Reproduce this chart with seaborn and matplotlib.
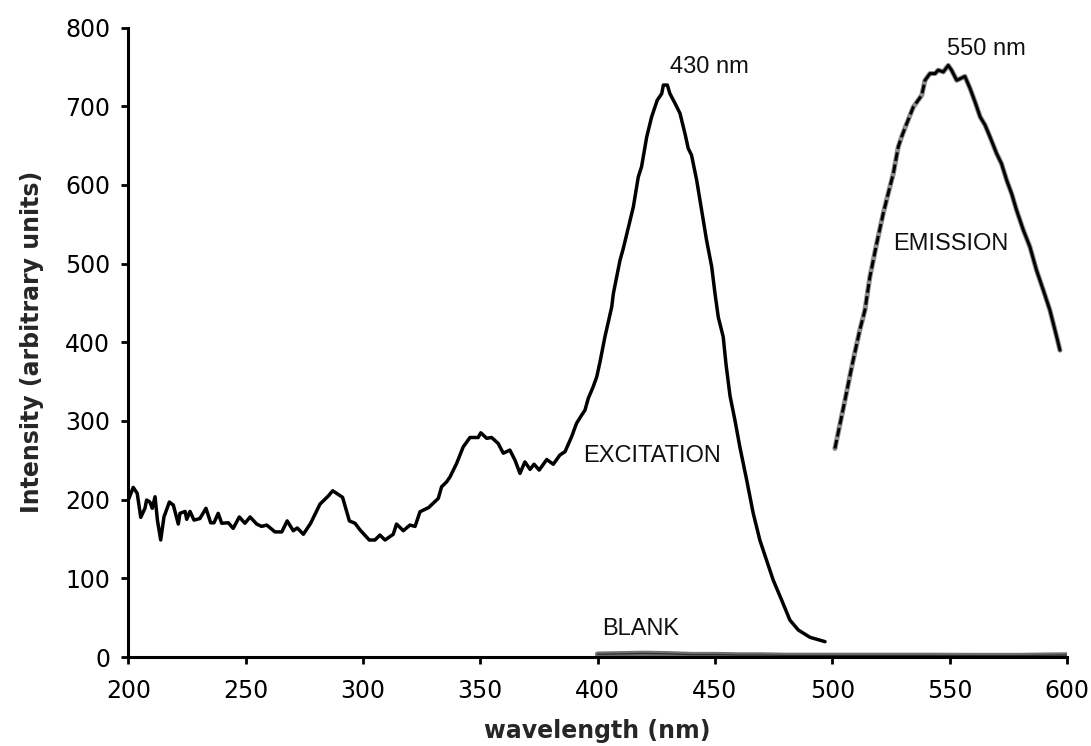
import matplotlib
matplotlib.use("Agg")
import matplotlib.pyplot as plt
import seaborn as sns

# Excitation spectrum (wavelength in nm, intensity in arbitrary units)
exc_wl = [200, 202.1, 203.8, 205.3, 207.1, 207.8, 209.2, 210.2, 211.4, 212.4,
          213.8, 215.2, 217.5, 219.2, 221.3, 222, 224.2, 224.9, 226.3, 228,
          230.5, 233.1, 235.1, 236.5, 238.3, 239.8, 242.6, 244.7, 247.3, 249.7,
          251.9, 254.7, 256.8, 259, 262.5, 265.4, 267.7, 270.3, 272, 274.6,
          277.7, 281.7, 285.2, 287.1, 288.8, 291.3, 294.2, 296.6, 298.7, 302.7,
          305.1, 307.2, 309.4, 312.9, 314.3, 317.2, 320, 322.2, 324.3, 328,
          332.1, 333.5, 335.7, 337.1, 339.9, 342.7, 345.6, 349.1, 350.2, 352.7,
          354.8, 357.6, 359.8, 362.6, 364.8, 366.9, 369, 371.2, 372.9, 375.1,
          378.3, 381.1, 383.9, 386.1, 388.9, 391, 393.2, 394.6, 396, 398.1,
          399.6, 401, 403.1, 406, 406.7, 409.5, 410.9, 413.8, 415.2, 417.3,
          418.7, 420.9, 423, 425.4, 427.3, 428, 429.7, 430.8, 433, 435.1,
          437.2, 438.6, 440, 442.2, 444.3, 446.4, 448.6, 450, 451.4, 453.5,
          454.7, 456.4, 458.5, 460.6, 463.5, 466.3, 469.1, 472, 474.8, 478.4,
          481.9, 485.5, 490.5, 496.9]
exc_int = [199.5, 215.6, 208, 177.5, 189, 199.5, 197, 189, 203.7, 174,
           148.7, 178, 197, 193, 169, 182.6, 185, 175, 185, 174,
           176, 189, 170.6, 170.6, 182.6, 170, 170.6, 163.5, 178, 170,
           178, 169, 166, 167.7, 159, 159, 173, 160.5, 164, 156,
           170, 194.4, 204.6, 211.3, 208, 203, 173, 170, 161.7, 148.7,
           148.7, 155, 148.7, 156, 169, 160.5, 167.7, 166, 184.6, 190,
           201.6, 216.4, 222.8, 229, 246, 267, 279, 279, 285, 278,
           279, 271.5, 259, 263, 250, 233.4, 248, 238.5, 245, 237.6,
           251, 245, 256.7, 261, 280, 297, 307.5, 313.8, 328.7, 343.5,
           356, 375, 407, 445, 462, 504, 519, 555, 572, 610,
           623, 661, 686.5, 707.8, 716, 727, 727, 716, 703.6, 690.8,
           665.4, 646.4, 638, 606, 568, 530, 496, 462, 432, 407,
           372, 332, 301, 267, 225, 182.6, 148.7, 123, 97.8, 72.4,
           47, 34.3, 25, 19.5]

# Emission spectrum
em_wl = [501.1, 505.4, 508.5, 511.7, 513.9, 516, 518.9, 521.7, 523.8, 526,
         528.1, 529.5, 531.7, 534.5, 536.6, 538.1, 539.5, 541.6, 543.8, 545.1,
         547.3, 549.4, 550.8, 553, 554.4, 556.5, 558.7, 560.8, 563, 565.1,
         567.2, 570, 572.1, 574.3, 576.4, 578.5, 581.4, 584.2, 587, 589.9,
         592.7, 595.6, 597]
em_int = [265, 326.6, 372, 415.5, 441, 483, 525.6, 563.8, 589, 614.6,
          648.4, 661, 678, 699, 707.8, 714, 733, 741.6, 741.6, 745.9,
          743.7, 752, 745.9, 733, 735, 738, 722.6, 705.6, 686.5, 676,
          661, 640, 627, 606, 589, 568, 542.6, 521.3, 491.7, 466.3,
          441, 407, 390]

# Blank measurement
blank_wl = [400, 410, 420, 430, 440, 450, 460, 470, 480, 490,
            500, 520, 540, 560, 580, 590, 600]
blank_int = [3.5, 4, 4.5, 4, 3, 3, 2.5, 2.5, 2, 2,
             2, 2, 2, 1.8, 1.8, 2.2, 2.5]

sns.set_style("ticks")
plt.rcParams['font.family'] = ['DejaVu Sans']

fig = plt.figure(figsize=(10.91, 7.46), dpi=100)
ax = fig.add_axes([0.1176, 0.1193, 0.8604, 0.8437])

# blank: textured grey band along the baseline
sns.lineplot(x=blank_wl, y=blank_int, ax=ax, color='#707070', lw=4.0,
             estimator=None, sort=False)
sns.lineplot(x=blank_wl, y=blank_int, ax=ax, color='#2e2e2e', lw=0.9,
             estimator=None, sort=False)

# excitation
sns.lineplot(x=exc_wl, y=exc_int, ax=ax, color='black', lw=2.5,
             estimator=None, sort=False)

# emission: grey replicate underneath, black trace on top
sns.lineplot(x=em_wl, y=em_int, ax=ax, color='#8c8c8c', lw=3.6,
             estimator=None, sort=False)
n_rise = 17
sns.lineplot(x=em_wl[:n_rise], y=em_int[:n_rise], ax=ax, color='black', lw=2.1,
             linestyle=(0, (3.0, 1.2)), estimator=None, sort=False)
sns.lineplot(x=em_wl[n_rise - 1:], y=em_int[n_rise - 1:], ax=ax, color='black',
             lw=2.1, estimator=None, sort=False)

ax.set_xlim(200, 600)
ax.set_ylim(0, 800)
ax.set_xticks(range(200, 601, 50))
ax.set_yticks(range(0, 801, 100))

for side in ('top', 'right'):
    ax.spines[side].set_visible(False)
for side in ('left', 'bottom'):
    ax.spines[side].set_linewidth(2.2)
    ax.spines[side].set_color('black')

ax.tick_params(axis='both', direction='out', length=5, width=2, colors='black',
               labelsize=17)
ax.tick_params(axis='x', pad=11)
ax.tick_params(axis='y', pad=8)

ax.set_xlabel('wavelength (nm)', fontsize=17, fontweight='bold', labelpad=11)
ax.set_ylabel('Intensity (arbitrary units)', fontsize=17, fontweight='bold',
              labelpad=15)

ann = dict(family=['Liberation Sans', 'DejaVu Sans'], fontsize=17,
           color='#111111', ha='left', va='center')
ax.text(430.7, 750, '430 nm', **ann)
ax.text(548.7, 773, '550 nm', **ann)
ax.text(393.9, 255, 'EXCITATION', **ann)
ax.text(526, 525, 'EMISSION', **ann)
ax.text(402.1, 35, 'BLANK', **ann)

fig.savefig('out.png', dpi=100)
